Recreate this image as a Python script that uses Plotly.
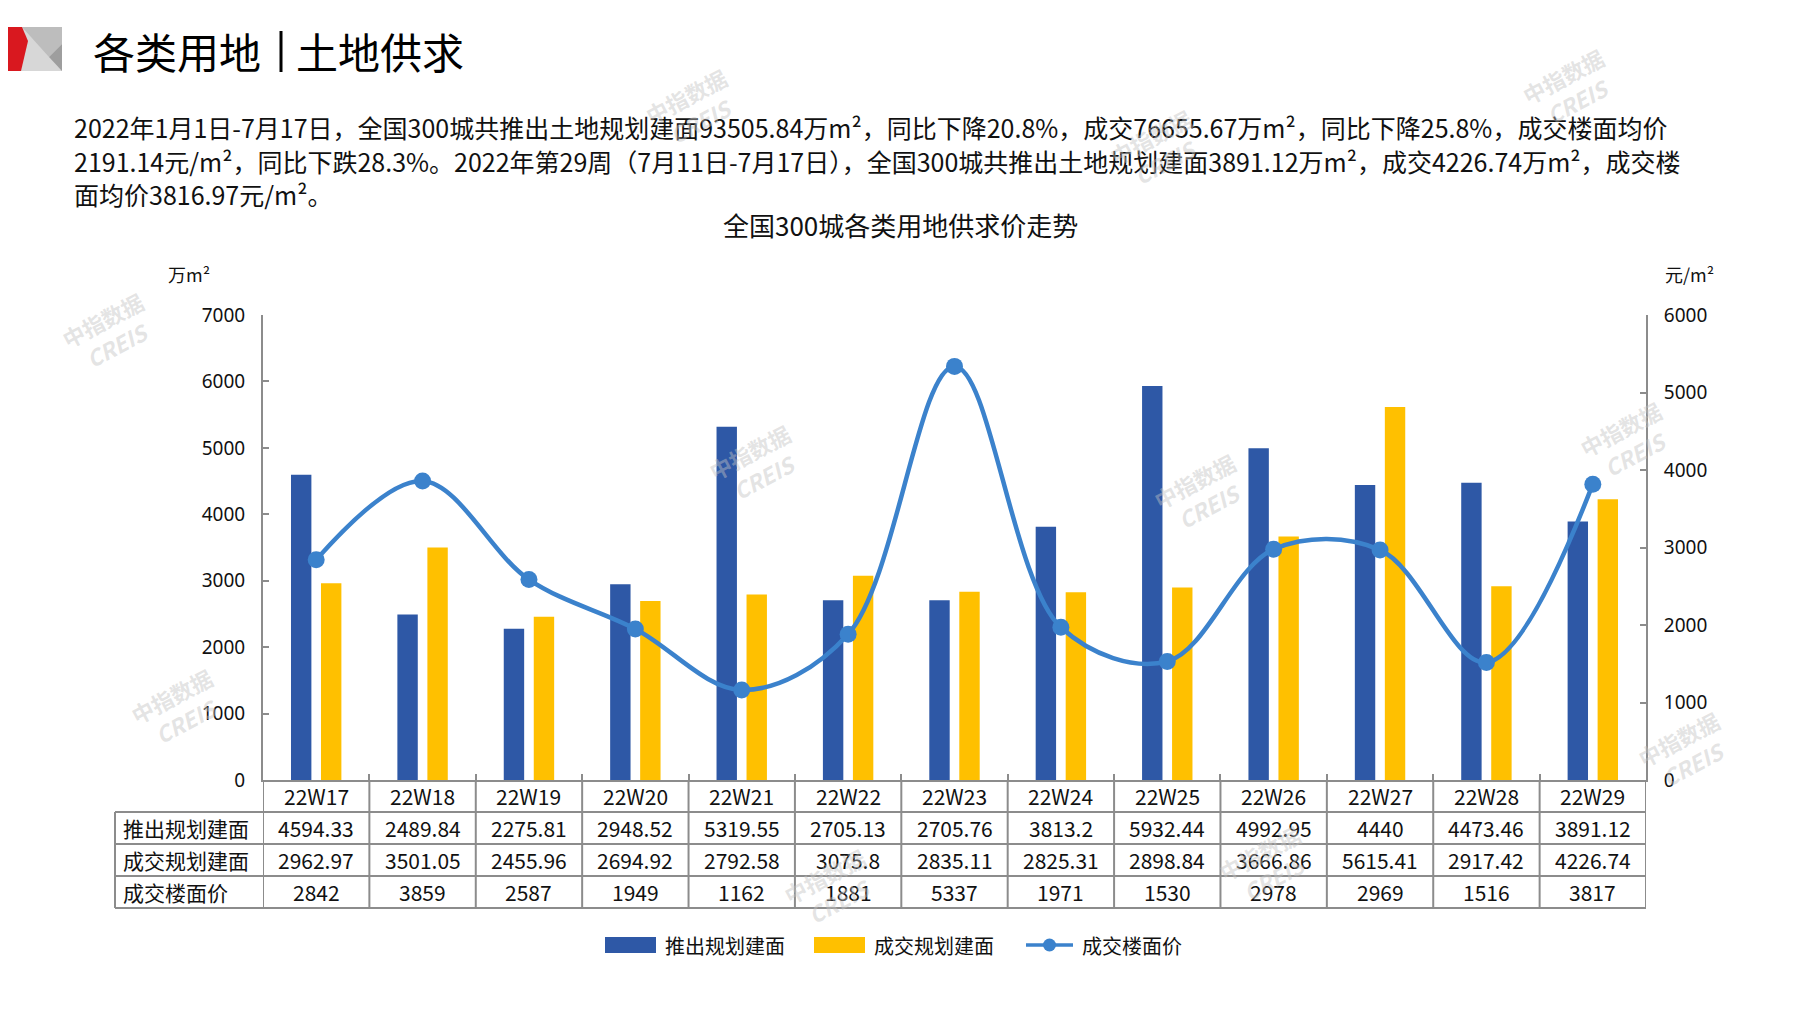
import plotly.graph_objects as go

# ---- data ----
weeks = ["22W17", "22W18", "22W19", "22W20", "22W21", "22W22", "22W23",
         "22W24", "22W25", "22W26", "22W27", "22W28", "22W29"]
supply_area = [4594.33, 2489.84, 2275.81, 2948.52, 5319.55, 2705.13, 2705.76,
               3813.2, 5932.44, 4992.95, 4440, 4473.46, 3891.12]
deal_area = [2962.97, 3501.05, 2455.96, 2694.92, 2792.58, 3075.8, 2835.11,
             2825.31, 2898.84, 3666.86, 5615.41, 2917.42, 4226.74]
deal_price = [2842, 3859, 2587, 1949, 1162, 1881, 5337,
              1971, 1530, 2978, 2969, 1516, 3817]

series_names = ["推出规划建面", "成交规划建面", "成交楼面价"]

page_title = ["各类用地", "土地供求"]
chart_title = "全国300城各类用地供求价走势"
summary_lines = [
    "2022年1月1日-7月17日，全国300城共推出土地规划建面93505.84万m²，同比下降20.8%，成交76655.67万m²，同比下降25.8%，成交楼面均价",
    "2191.14元/m²，同比下跌28.3%。2022年第29周（7月11日-7月17日），全国300城共推出土地规划建面3891.12万m²，成交4226.74万m²，成交楼",
    "面均价3816.97元/m²。",
]

COLORS = {
    "supply": "#2E58A6",
    "deal": "#FFC000",
    "price": "#3B82CC",
    "axis": "#8C8C8C",
    "text": "#111111",
    "red": "#D9181F",
}

CJK = "Liberation Sans Narrow, Noto Sans CJK SC, sans-serif"
NUM = "Liberation Sans Narrow, Noto Sans CJK SC, sans-serif"

# page pixel layout (the page body adds an 8px offset)
OFF = 8
W, H = 1797, 1010
PW, PH = 1383, 465
ML, MT = 263 - OFF, 315 - OFF
MR = W - ML - PW
MB = H - MT - PH


def px_x(px):
    return (px - OFF - ML) / PW


def px_y(py):
    return (H - MB - (py - OFF)) / PH


def path(points):
    return "M " + " L ".join(f"{px_x(x):.5f},{px_y(y):.5f}" for x, y in points) + " Z"


fig = go.Figure()

fig.add_trace(go.Bar(
    x=weeks, y=supply_area, name=series_names[0],
    marker=dict(color=COLORS["supply"], line=dict(width=0)),
    showlegend=False,
))
fig.add_trace(go.Bar(
    x=weeks, y=deal_area, name=series_names[1],
    marker=dict(color=COLORS["deal"], line=dict(width=0)),
    showlegend=False,
))
fig.add_trace(go.Scatter(
    x=weeks, y=deal_price, name=series_names[2], yaxis="y2",
    mode="lines+markers",
    line=dict(color=COLORS["price"], width=4.5, shape="spline", smoothing=1.0),
    marker=dict(color=COLORS["price"], size=17),
    showlegend=False,
))

shapes = []
annotations = []

# header graphic
shapes += [
    dict(type="path", xref="paper", yref="paper", line=dict(width=0),
         fillcolor="#D7D7D7", path=path([(20, 27), (62, 27), (62, 71), (20, 71)])),
    dict(type="path", xref="paper", yref="paper", line=dict(width=0),
         fillcolor="#BDBDBD", path=path([(22, 27), (62, 27), (62, 44), (49, 57)])),
    dict(type="path", xref="paper", yref="paper", line=dict(width=0),
         fillcolor="#9E9E9E", path=path([(62, 44), (49, 57), (62, 71)])),
    dict(type="path", xref="paper", yref="paper", line=dict(width=0),
         fillcolor=COLORS["red"], path=path([(0, 27), (22, 27), (28, 41), (21, 71), (0, 71)])),
    dict(type="line", xref="paper", yref="paper", line=dict(color="#000000", width=3),
         x0=px_x(281), x1=px_x(281), y0=px_y(31), y1=px_y(72)),
]
for part, x in zip(page_title, [91, 294]):
    annotations.append(dict(
        text=part, xref="paper", yref="paper", x=px_x(x), y=px_y(50),
        xanchor="left", yanchor="middle", showarrow=False,
        font=dict(family=CJK, size=42, color="#000000"),
    ))

for i, line in enumerate(summary_lines):
    annotations.append(dict(
        text=line, xref="paper", yref="paper", x=px_x(72), y=px_y(127 + 33.5 * i),
        xanchor="left", yanchor="middle", showarrow=False,
        font=dict(family=CJK, size=25, color=COLORS["text"]),
    ))

annotations.append(dict(
    text=chart_title, xref="paper", yref="paper", x=px_x(900), y=px_y(225),
    xanchor="center", yanchor="middle", showarrow=False,
    font=dict(family=CJK, size=26, color=COLORS["text"]),
))
annotations.append(dict(
    text="万m²", xref="paper", yref="paper", x=px_x(166), y=px_y(274),
    xanchor="left", yanchor="middle", showarrow=False,
    font=dict(family=CJK, size=18, color=COLORS["text"]),
))
annotations.append(dict(
    text="元/m²", xref="paper", yref="paper", x=px_x(1663), y=px_y(274),
    xanchor="left", yanchor="middle", showarrow=False,
    font=dict(family=CJK, size=18, color=COLORS["text"]),
))

# data table under the axis
grid = dict(color=COLORS["axis"], width=2)
row_lines = [780, 812, 844, 876, 908]
table_left = 115
for y in row_lines[1:]:
    shapes.append(dict(type="line", xref="paper", yref="paper",
                       x0=px_x(table_left), x1=1, y0=px_y(y), y1=px_y(y), line=grid))
shapes.append(dict(type="line", xref="paper", yref="paper",
                   x0=px_x(table_left), x1=px_x(table_left),
                   y0=px_y(row_lines[1]), y1=px_y(row_lines[-1]), line=grid))
for k in range(len(weeks) + 1):
    shapes.append(dict(type="line", xref="x", yref="paper",
                       x0=k - 0.5, x1=k - 0.5, y0=px_y(row_lines[-1]), y1=0, line=grid))

row_centers = [796, 828, 860, 892]
table_rows = [weeks, supply_area, deal_area, deal_price]
for r, values in enumerate(table_rows):
    for wk, v in zip(weeks, values):
        annotations.append(dict(
            text=str(v), xref="x", yref="paper", x=wk, y=px_y(row_centers[r]),
            xanchor="center", yanchor="middle", showarrow=False,
            font=dict(family=NUM, size=21, color=COLORS["text"]),
        ))
for r, name in enumerate(series_names):
    annotations.append(dict(
        text=name, xref="paper", yref="paper", x=px_x(121), y=px_y(row_centers[r + 1]),
        xanchor="left", yanchor="middle", showarrow=False,
        font=dict(family=CJK, size=21, color=COLORS["text"]),
    ))

# legend
ly = 945
shapes += [
    dict(type="rect", xref="paper", yref="paper", line=dict(width=0), fillcolor=COLORS["supply"],
         x0=px_x(605), x1=px_x(656), y0=px_y(ly + 8), y1=px_y(ly - 8)),
    dict(type="rect", xref="paper", yref="paper", line=dict(width=0), fillcolor=COLORS["deal"],
         x0=px_x(814), x1=px_x(865), y0=px_y(ly + 8), y1=px_y(ly - 8)),
    dict(type="line", xref="paper", yref="paper", line=dict(color=COLORS["price"], width=3.5),
         x0=px_x(1026), x1=px_x(1073), y0=px_y(ly), y1=px_y(ly)),
    dict(type="circle", xref="paper", yref="paper", line=dict(width=0), fillcolor=COLORS["price"],
         x0=px_x(1043), x1=px_x(1056), y0=px_y(ly + 6.5), y1=px_y(ly - 6.5)),
]
for name, x in zip(series_names, [663, 872, 1080]):
    annotations.append(dict(
        text=name, xref="paper", yref="paper", x=px_x(x), y=px_y(ly),
        xanchor="left", yanchor="middle", showarrow=False,
        font=dict(family=CJK, size=20, color=COLORS["text"]),
    ))

# watermarks
for x, y in [(109, 332), (178, 708), (693, 109), (756, 464), (1201, 493), (1570, 89),
             (1627, 441), (1685, 751), (831, 888), (1266, 865), (1157, 149)]:
    annotations.append(dict(
        text="<b>中指数据</b><br><b><i>CREIS</i></b>", xref="paper", yref="paper",
        x=px_x(x), y=px_y(y), xanchor="center", yanchor="middle",
        showarrow=False, textangle=-28,
        font=dict(family="Noto Sans CJK SC", size=22, color="rgba(195,195,195,0.45)"),
    ))

axis_common = dict(
    showgrid=False, zeroline=False, showline=True,
    linecolor=COLORS["axis"], linewidth=2,
    ticks="inside", ticklen=6, tickwidth=2, tickcolor=COLORS["axis"],
    tickfont=dict(family="Noto Sans, sans-serif", size=19, color=COLORS["text"]),
    ticklabelstandoff=12,
)

fig.update_layout(
    width=W, height=H,
    margin=dict(l=ML, r=MR, t=MT, b=MB, autoexpand=False),
    paper_bgcolor="white", plot_bgcolor="white",
    font=dict(family=CJK, color=COLORS["text"]),
    barmode="group", bargap=0.436, bargroupgap=0.32,
    xaxis=dict(range=[-0.5, len(weeks) - 0.5], autorange=False,
               showgrid=False, zeroline=False, showline=True, linecolor=COLORS["axis"], linewidth=2,
               ticks="inside", tickson="boundaries", ticklen=6, tickwidth=2,
               tickcolor=COLORS["axis"], showticklabels=False),
    yaxis=dict(range=[0, 7000], dtick=1000, **axis_common),
    yaxis2=dict(range=[0, 6000], dtick=1000, overlaying="y", side="right", **axis_common),
    shapes=shapes,
    annotations=annotations,
    showlegend=False,
)

fig.write_html("out.html")
